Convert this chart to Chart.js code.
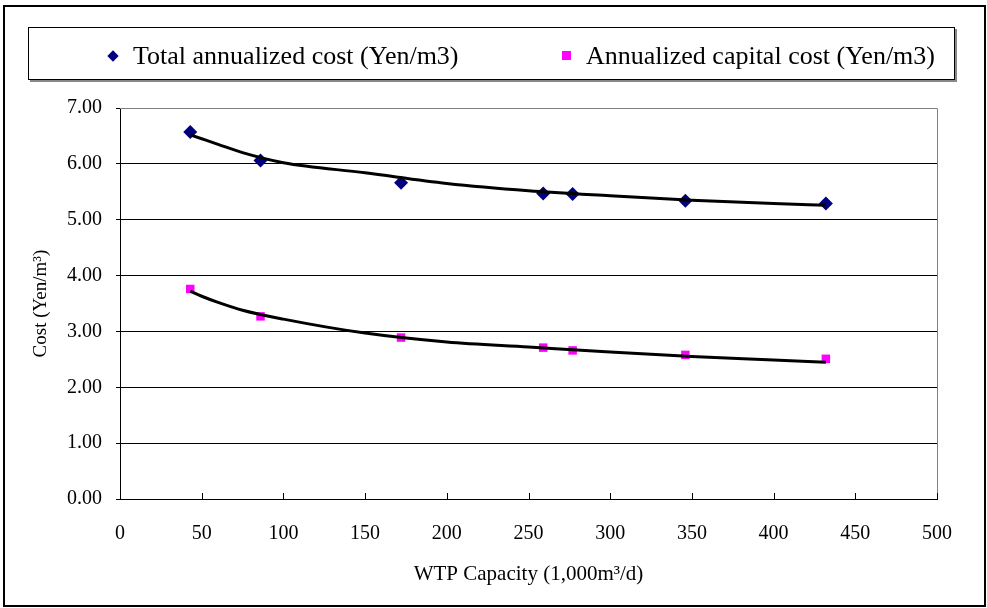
<!DOCTYPE html>
<html>
<head>
<meta charset="utf-8">
<script src="https://cdn.jsdelivr.net/npm/chart.js@4"></script>
<style>
  body { margin: 0; background: #fff; }
  #frame {
    position: absolute; left: 3px; top: 5px; width: 979px; height: 598px;
    border: 2px solid #000;
  }
  #chartBox { position: absolute; left: 0; top: 0; width: 987px; height: 608px; }
  #legend {
    position: absolute; left: 28px; top: 27px; width: 925px; height: 51px;
    border: 1px solid #000; box-shadow: 2px 2px 0 #888; background: #fff;
    font-family: "Liberation Serif", serif; font-size: 26px; color: #000;
  }
  .item { position: absolute; top: 4px; line-height: 48px; white-space: nowrap; }
  .mark { position: absolute; top: 20px; }
  .diamond { width: 8px; height: 8px; background: #000080; transform: rotate(45deg); }
  .square { width: 9px; height: 9px; background: #ff00ff; top: 19px; }
</style>
</head>
<body>
<div id="frame"></div>
<div id="chartBox"><canvas id="costChart" width="987" height="608"></canvas></div>
<div id="legend">
  <div class="item" style="left:80px"><span class="mark diamond" style="left:0"></span><span style="margin-left:24px">Total annualized cost (Yen/m3)</span></div>
  <div class="item" style="left:533px"><span class="mark square" style="left:0"></span><span style="margin-left:24px">Annualized capital cost (Yen/m3)</span></div>
</div>
<script>
// WTP capacity (1,000 m3/d)
const capacity = [43, 86, 172, 259, 277, 346, 432];
// Yen/m3
const totalCost = [6.57, 6.06, 5.66, 5.47, 5.46, 5.34, 5.29];
const capitalCost = [3.76, 3.27, 2.89, 2.71, 2.66, 2.58, 2.51];

// trend lines
const trendX = [43, 50, 60, 75, 100, 150, 200, 250, 300, 350, 400, 432];
const totalTrend = [6.52, 6.45, 6.35, 6.2, 6.02, 5.84, 5.65, 5.52, 5.43, 5.35, 5.29, 5.26];
const capitalTrend = [3.72, 3.63, 3.52, 3.38, 3.22, 2.97, 2.81, 2.72, 2.63, 2.55, 2.49, 2.45];

const yTicks = [0, 1, 2, 3, 4, 5, 6, 7];
const xTicks = [0, 50, 100, 150, 200, 250, 300, 350, 400, 450, 500];

const toXY = (xs, ys) => xs.map((x, i) => ({ x: x, y: ys[i] }));

// gray border round the plot area + inward ticks on the x axis
const plotFrame = {
  id: 'plotFrame',
  beforeDatasetsDraw(chart) {
    const { ctx, chartArea: a, scales } = chart;
    ctx.save();
    ctx.strokeStyle = '#808080';
    ctx.lineWidth = 1;
    ctx.beginPath();
    ctx.moveTo(a.left, a.top + 0.5);
    ctx.lineTo(a.right + 0.5, a.top + 0.5);
    ctx.lineTo(a.right + 0.5, a.bottom);
    ctx.stroke();
    ctx.strokeStyle = '#000';
    ctx.beginPath();
    xTicks.forEach(v => {
      const px = Math.round(scales.x.getPixelForValue(v)) + 0.5;
      ctx.moveTo(px, a.bottom);
      ctx.lineTo(px, a.bottom - 6);
    });
    ctx.stroke();
    ctx.restore();
  }
};

new Chart(document.getElementById('costChart'), {
  type: 'scatter',
  data: {
    datasets: [
      {
        label: 'Total trend',
        type: 'line',
        data: toXY(trendX, totalTrend),
        borderColor: '#000',
        borderWidth: 3,
        pointRadius: 0,
        cubicInterpolationMode: 'monotone',
        fill: false
      },
      {
        label: 'Capital trend',
        type: 'line',
        data: toXY(trendX, capitalTrend),
        borderColor: '#000',
        borderWidth: 3,
        pointRadius: 0,
        cubicInterpolationMode: 'monotone',
        fill: false
      },
      {
        label: 'Total annualized cost (Yen/m3)',
        data: toXY(capacity, totalCost),
        pointStyle: 'rectRot',
        pointRadius: 7,
        backgroundColor: '#000080',
        borderColor: '#000080',
        borderWidth: 0
      },
      {
        label: 'Annualized capital cost (Yen/m3)',
        data: toXY(capacity, capitalCost),
        pointStyle: 'rect',
        pointRadius: 6,
        backgroundColor: '#ff00ff',
        borderColor: '#ff00ff',
        borderWidth: 0
      }
    ]
  },
  options: {
    responsive: false,
    animation: false,
    layout: { padding: { top: 108, right: 50, left: 0, bottom: 0 } },
    plugins: { legend: { display: false }, tooltip: { enabled: false } },
    scales: {
      x: {
        type: 'linear',
        min: 0,
        max: 500,
        afterBuildTicks: s => { s.ticks = xTicks.map(v => ({ value: v })); },
        afterFit: s => { s.height = 109; },
        grid: { display: false },
        border: { display: true, color: '#000', width: 1 },
        ticks: {
          color: '#000',
          padding: 15,
          maxRotation: 0,
          font: { family: 'Liberation Serif', size: 20 }
        },
        title: {
          display: true,
          text: 'WTP Capacity (1,000m³/d)',
          color: '#000',
          padding: { top: 0, bottom: 21 },
          font: { family: 'Liberation Serif', size: 21 }
        }
      },
      y: {
        min: 0,
        max: 7,
        afterBuildTicks: s => { s.ticks = yTicks.map(v => ({ value: v })); },
        afterFit: s => { s.width = 120; },
        grid: {
          color: ctx => (ctx.tick && ctx.tick.value === 7 ? '#808080' : '#000'),
          lineWidth: 1,
          tickLength: 4,
          tickColor: '#000'
        },
        border: { display: true, color: '#000', width: 1 },
        ticks: {
          color: '#000',
          padding: 14,
          callback: v => Number(v).toFixed(2),
          font: { family: 'Liberation Serif', size: 20 }
        },
        title: {
          display: true,
          text: 'Cost (Yen/m³)',
          color: '#000',
          padding: { top: 30, bottom: 0 },
          font: { family: 'Liberation Serif', size: 19 }
        }
      }
    }
  },
  plugins: [plotFrame]
});
</script>
</body>
</html>
